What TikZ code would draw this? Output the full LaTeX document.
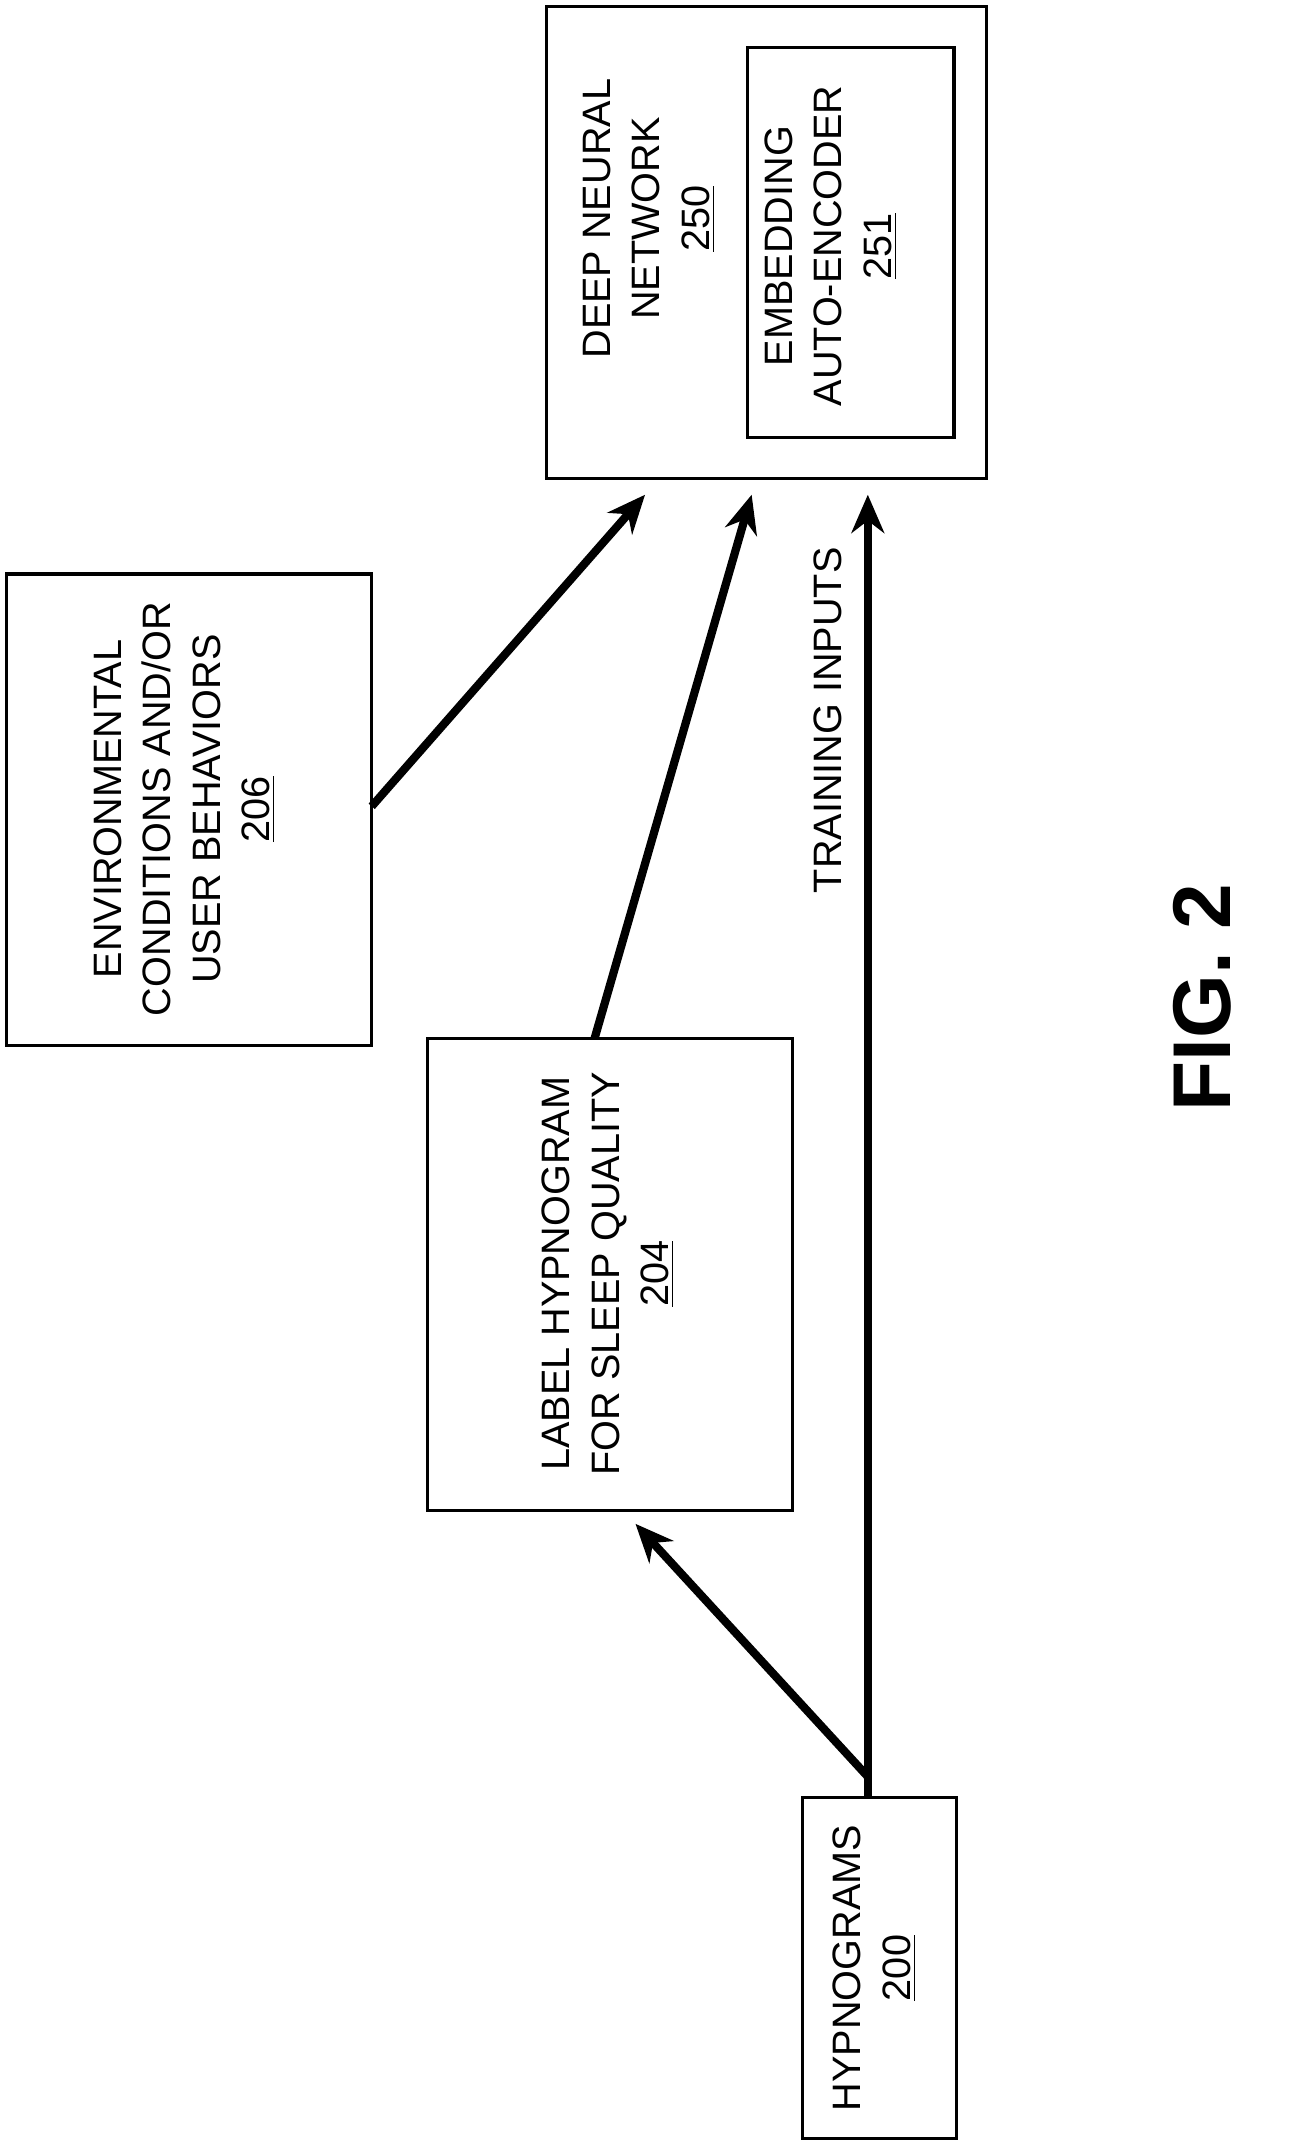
\documentclass[tikz,border=0pt]{standalone}
\usepackage{fontspec}
\setmainfont{Liberation Sans}
\usetikzlibrary{arrows.meta}
\begin{document}
\begin{tikzpicture}[x=0.5pt,y=-0.5pt,
  box/.style={draw,line width=1.2pt,inner sep=0pt},
  lbl/.style={rotate=90,align=center,font=\fontsize{14.5}{18}\selectfont},
  arr/.style={line width=3pt,-{Stealth[length=14pt,width=12pt]}}]
\useasboundingbox (0,0) rectangle (960,1571);
\node[box,minimum width=161pt,minimum height=172.5pt] (dnn) at (561,177.5) {};
\node[box,minimum width=75.5pt,minimum height=142.5pt] (ae) at (622.5,177.5) {};
\node[box,minimum width=133.5pt,minimum height=172.5pt] (env) at (138.5,592.5) {};
\node[box,minimum width=133.5pt,minimum height=172.5pt] (lab) at (446.5,932.5) {};
\node[box,minimum width=56.5pt,minimum height=125pt] (hyp) at (643.5,1440) {};
\node[lbl] (dnnt) at (475,160) {DEEP NEURAL\\NETWORK\\\underline{250}};
\node[lbl] (aet) at (608,180) {EMBEDDING\\AUTO-ENCODER\\\underline{251}};
\node[lbl] (envt) at (135,592) {ENVIRONMENTAL\\CONDITIONS AND/OR\\USER BEHAVIORS\\\underline{206}};
\node[lbl] (labt) at (445,932) {LABEL HYPNOGRAM\\FOR SLEEP QUALITY\\\underline{204}};
\node[lbl] (hypt) at (640,1440) {HYPNOGRAMS\\\underline{200}};
\node[lbl] (tin) at (606,527) {TRAINING INPUTS};
\node[rotate=90,font=\bfseries\fontsize{30}{36}\selectfont] (fig) at (880,730) {FIG. 2};
\coordinate (split) at (635,1300);
\coordinate (t1) at (472,362);
\coordinate (t2) at (550,362);
\coordinate (t3) at (635,362);
\coordinate (t4) at (465,1115);
\coordinate (e1) at (272,590);
\coordinate (l1) at (435,760);
\draw[arr] (e1) -- (t1);
\draw[arr] (l1) -- (t2);
\draw[arr] (split) -- (t3);
\draw[arr] (split) -- (t4);
\draw[line width=3pt] (hyp.north -| split) -- (split);
\end{tikzpicture}
\end{document}
